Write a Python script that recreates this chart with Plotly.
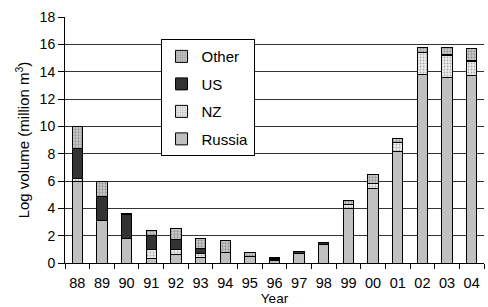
import plotly.graph_objects as go

years = ["88", "89", "90", "91", "92", "93", "94", "95", "96", "97", "98", "99", "00", "01", "02", "03", "04"]
russia = [6.0, 3.1, 1.8, 0.3, 0.65, 0.4, 0.75, 0.45, 0.15, 0.7, 1.35, 4.0, 5.45, 8.15, 13.8, 13.6, 13.75]
nz = [0.2, 0.0, 0.0, 0.7, 0.35, 0.33, 0.0, 0.0, 0.1, 0.0, 0.0, 0.25, 0.4, 0.65, 1.6, 1.55, 1.0]
us = [2.2, 1.75, 1.75, 1.0, 0.75, 0.35, 0.0, 0.0, 0.05, 0.15, 0.15, 0.0, 0.0, 0.0, 0.0, 0.1, 0.1]
other = [1.6, 1.1, 0.1, 0.35, 0.8, 0.7, 0.9, 0.33, 0.1, 0.0, 0.0, 0.35, 0.65, 0.3, 0.4, 0.5, 0.85]

fig = go.Figure()
line = dict(color="black", width=1)
fig.add_trace(go.Bar(name="Russia", x=years, y=russia, legendgroup="r", legendrank=4,
                     marker=dict(color="#c0c0c0", line=line)))
fig.add_trace(go.Bar(name="NZ", x=years, y=nz, legendgroup="n", legendrank=3,
                     marker=dict(color="white", line=line,
                                 pattern=dict(shape=".", fgcolor="#666666", bgcolor="#eeeeee", size=3, solidity=0.3))))
fig.add_trace(go.Bar(name="US", x=years, y=us, legendgroup="u", legendrank=2,
                     marker=dict(color="#333333", line=line)))
fig.add_trace(go.Bar(name="Other", x=years, y=other, legendgroup="o", legendrank=1,
                     marker=dict(color="white", line=line,
                                 pattern=dict(shape=".", fgcolor="#555555", bgcolor="#d0d0d0", size=3, solidity=0.45))))

fig.update_layout(
    barmode="stack",
    bargap=0.58,
    width=488, height=307,
    margin=dict(l=65, r=4, t=17, b=44),
    paper_bgcolor="white", plot_bgcolor="white",
    font=dict(family="Liberation Sans, Arial, sans-serif", size=14, color="black"),
    showlegend=True,
    legend=dict(x=0.228, y=0.91, xanchor="left", yanchor="top",
                traceorder="grouped", tracegroupgap=5, itemwidth=30,
                bordercolor="black", borderwidth=1, bgcolor="white",
                font=dict(size=15)),
)
fig.update_xaxes(
    type="category",
    showline=True, linecolor="black", linewidth=1,
    ticks="outside", ticklen=5, tickcolor="black", tickson="boundaries",
    ticklabelstandoff=7, tickfont=dict(size=14.5), tickangle=0,
    title=dict(text="Year", standoff=3, font=dict(size=13.5)),
    showgrid=False,
)
fig.update_yaxes(
    range=[0, 18], dtick=2,
    showline=True, linecolor="black", linewidth=1,
    ticks="outside", ticklen=6, tickcolor="black", tickfont=dict(size=14),
    showgrid=True, gridcolor="#333333", gridwidth=1,
    title=dict(text="Log volume (million m<sup>3</sup>)", standoff=6, font=dict(size=15)),
    zeroline=False,
)
fig.write_html("out.html", config={"displayModeBar": False},
               post_script="document.body.style.margin='0';")
